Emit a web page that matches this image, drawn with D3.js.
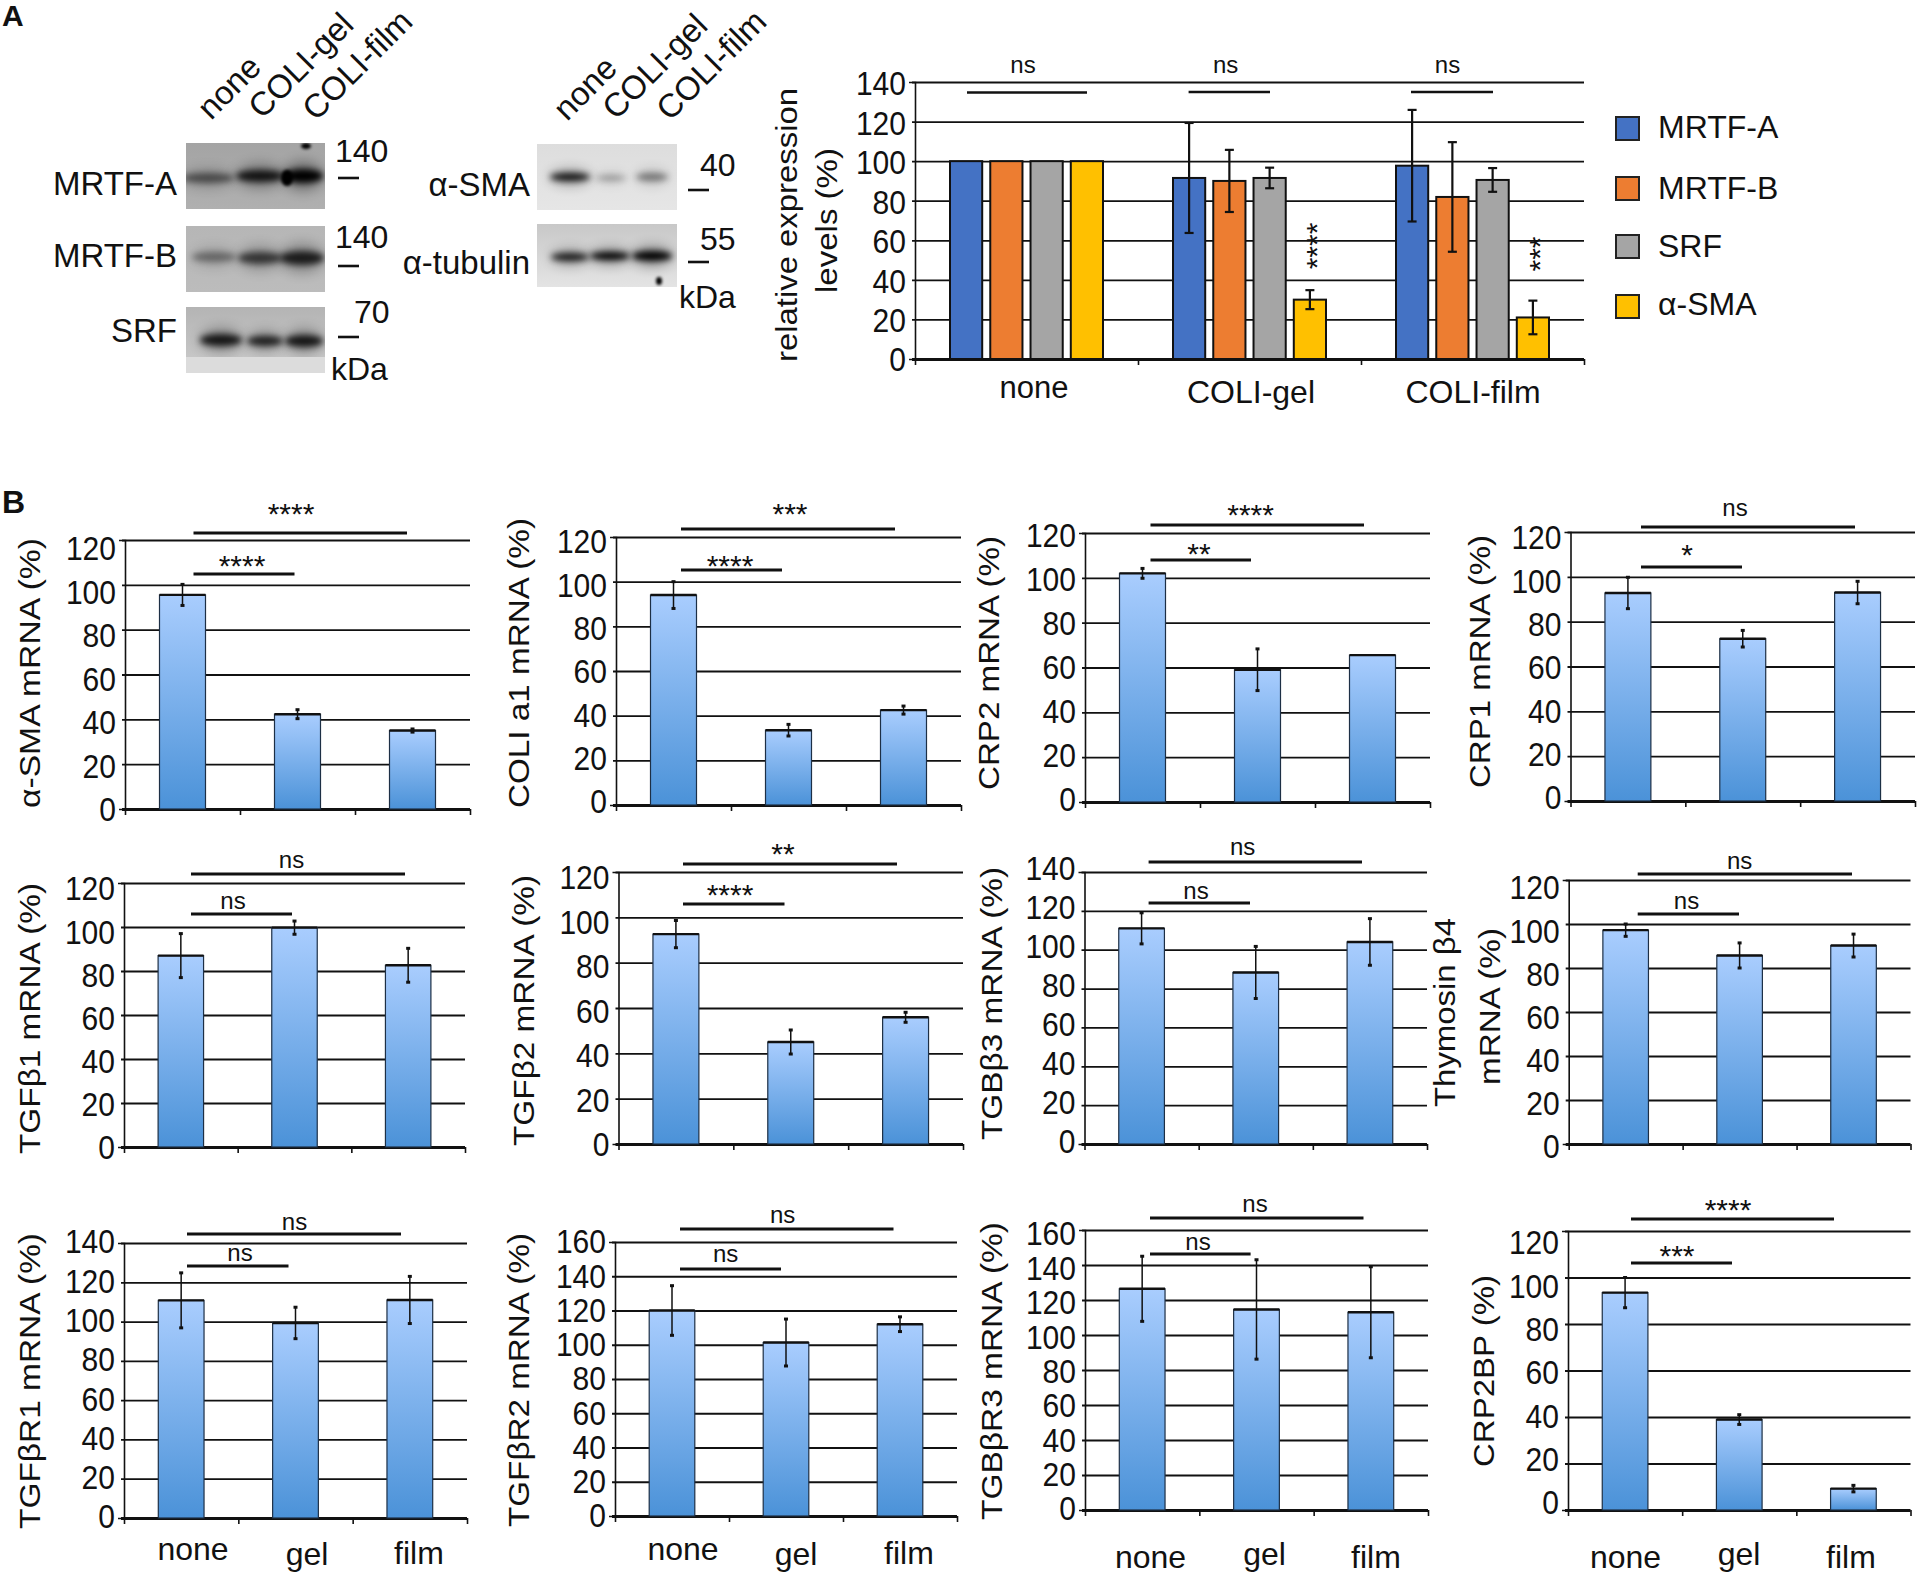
<!DOCTYPE html>
<html>
<head>
<meta charset="utf-8">
<script src="https://cdn.jsdelivr.net/npm/d3@7"></script>
<style>
  html, body { margin: 0; padding: 0; background: #fff; }
  svg { display: block; }
  text { font-family: "Liberation Sans", Arial, sans-serif; fill: #111; }
</style>
</head>
<body>
<svg id="fig" width="1917" height="1575"></svg>
<script>
// panel A values
const groupsA = ['none', 'COLI-gel', 'COLI-film'];
const proteins = ['MRTF-A', 'MRTF-B', 'SRF', 'α-SMA'];
const proteinColors = ['#4472c4', '#ed7d31', '#a5a5a5', '#ffc000'];
const valuesNone = [100, 100, 100, 100];
const errNone = [0, 0, 0, 0];
const valuesGel = [91.5, 90, 91.5, 30];
const errGel = [27.8, 15.7, 5.2, 4.8];
const valuesFilm = [97.7, 81.9, 90.5, 21];
const errFilm = [28.2, 27.7, 6, 8.5];
const yTicksA = [0, 20, 40, 60, 80, 100, 120, 140];

// panel B values, order is none / gel / film
const conditions = ['none', 'gel', 'film'];
const smaMrna = [95.5, 42.3, 35];
const smaMrnaErr = [4.7, 2, 0.7];
const coliMrna = [94, 33.5, 42.5];
const coliMrnaErr = [6, 2.6, 1.8];
const crp2Mrna = [102, 59, 65.5];
const crp2MrnaErr = [2.2, 9.3, 0];
const crp1Mrna = [92.8, 72.4, 93];
const crp1MrnaErr = [7, 3.7, 5];
const tgfb1Mrna = [87, 99.7, 82.6];
const tgfb1MrnaErr = [10, 3, 7.7];
const tgfb2Mrna = [92.6, 45, 55.9];
const tgfb2MrnaErr = [6, 5.3, 2.2];
const tgbb3Mrna = [111, 88.3, 104];
const tgbb3MrnaErr = [8, 13.4, 12];
const thymosinMrna = [97.2, 85.7, 90.2];
const thymosinMrnaErr = [2.8, 5.7, 5.2];
const tgfbr1Mrna = [110.8, 99.3, 111];
const tgfbr1MrnaErr = [14, 8, 12];
const tgfbr2Mrna = [120, 101.3, 112];
const tgfbr2MrnaErr = [14.5, 13.7, 4.3];
const tgbr3Mrna = [126.4, 114.6, 113];
const tgbr3MrnaErr = [18.6, 28.4, 26];
const crp2bp = [93.5, 38.9, 9.2];
const crp2bpErr = [6.5, 2.1, 1.4];

const svg = d3.select('#fig');
const defs = svg.append('defs');

const barGrad = defs.append('linearGradient').attr('id', 'barGrad')
  .attr('x1', 0).attr('y1', 0).attr('x2', 0).attr('y2', 1);
barGrad.append('stop').attr('offset', '0%').attr('stop-color', '#a9cdfe');
barGrad.append('stop').attr('offset', '100%').attr('stop-color', '#4b92d8');

[[1.5, 'blot1'], [3, 'blot3'], [6, 'blot6']].forEach(f => {
  defs.append('filter').attr('id', f[1]).attr('x', '-60%').attr('y', '-100%').attr('width', '220%').attr('height', '300%')
    .append('feGaussianBlur').attr('stdDeviation', f[0]);
});

function label(g, str, x, y, size, opts = {}) {
  return g.append('text').attr('x', x).attr('y', y)
    .attr('font-size', size)
    .attr('text-anchor', opts.anchor || 'start')
    .attr('font-weight', opts.weight || 'normal')
    .text(str);
}

// rotated text stretched to a known span
function vLabel(str, x, yTop, yBottom, size = 30) {
  svg.append('text')
    .attr('transform', `translate(${x + 2},${(yTop + yBottom) / 2}) rotate(-90)`)
    .attr('text-anchor', 'middle')
    .attr('dominant-baseline', 'middle')
    .attr('font-size', size)
    .attr('textLength', yBottom - yTop)
    .attr('lengthAdjust', 'spacingAndGlyphs')
    .text(str);
}

function drawAxes(g, y, box, ticks, labelShift) {
  const w = box.x1 - box.x0;
  const maxV = ticks[ticks.length - 1];
  const axis = g.append('g')
    .call(d3.axisLeft(y).tickValues(ticks).tickFormat(d3.format('d')));
  axis.select('.domain').attr('stroke', '#111').attr('stroke-width', 1.6);
  axis.selectAll('.tick line')
    .attr('x1', -3).attr('x2', w)
    .attr('stroke', '#111')
    .attr('stroke-width', d => d === 0 ? 3 : 1.8);
  // source labels are tall and narrow
  axis.selectAll('.tick text')
    .attr('x', -9)
    .attr('y', d => labelShift[0] + (labelShift[1] - labelShift[0]) * d / maxV)
    .attr('font-size', 34)
    .attr('textLength', d => String(d).length * 16.7)
    .attr('lengthAdjust', 'spacingAndGlyphs')
    .attr('font-family', '"Liberation Sans", Arial, sans-serif')
    .attr('fill', '#111');

  const cats = d3.scaleLinear().domain([0, 3]).range([0, w]);
  const bottom = g.append('g').attr('transform', `translate(0,${y(0)})`)
    .call(d3.axisBottom(cats).tickValues([0, 1, 2, 3]).tickSize(6).tickFormat(''));
  bottom.select('.domain').remove();
  bottom.selectAll('.tick line').attr('stroke', '#111').attr('stroke-width', 1.6);
}

function errorBar(g, x, yHi, yLo, capW, lineW, capH) {
  g.append('line').attr('x1', x).attr('x2', x).attr('y1', yHi).attr('y2', yLo)
    .attr('stroke', '#111').attr('stroke-width', lineW);
  [yHi, yLo].forEach(v => {
    g.append('line').attr('x1', x - capW / 2).attr('x2', x + capW / 2).attr('y1', v).attr('y2', v)
      .attr('stroke', '#111').attr('stroke-width', capH);
  });
}

// ---- panel A chart ----
const boxA = { x0: 915, x1: 1584, top: 82, base: 359 };
const gA = svg.append('g').attr('transform', `translate(${boxA.x0},0)`);
const yA = d3.scaleLinear().domain([0, 140]).range([boxA.base, boxA.top]);
drawAxes(gA, yA, boxA, yTicksA, [1, 2]);

const outerA = d3.scaleBand().domain(groupsA).range([0, boxA.x1 - boxA.x0]);
const innerA = d3.scaleBand().domain(proteins)
  .range([35, 188]).paddingInner(0.2).paddingOuter(0);
[[valuesNone, errNone], [valuesGel, errGel], [valuesFilm, errFilm]].forEach((pair, gi) => {
  const group = gA.append('g').attr('transform', `translate(${outerA(groupsA[gi])},0)`);
  group.selectAll('rect').data(pair[0]).join('rect')
    .attr('x', (d, i) => innerA(proteins[i]))
    .attr('width', innerA.bandwidth())
    .attr('y', d => yA(d))
    .attr('height', d => yA(0) - yA(d))
    .attr('fill', (d, i) => proteinColors[i])
    .attr('stroke', '#111').attr('stroke-width', 2);
  pair[0].forEach((v, i) => {
    if (!pair[1][i]) return;
    errorBar(group, innerA(proteins[i]) + innerA.bandwidth() / 2,
      yA(v + pair[1][i]), yA(v - pair[1][i]), 9, 2.2, 2.2);
  });
});

label(svg, 'none', 1034, 398, 31, { anchor: 'middle' });
label(svg, 'COLI-gel', 1251, 403, 32, { anchor: 'middle' });
label(svg, 'COLI-film', 1473, 403, 32, { anchor: 'middle' });

vLabel('relative expression', 787, 88, 362);
vLabel('levels (%)', 827, 148, 293);

const sigA = [[967, 1087, 92.5, 'ns', 1023], [1188.6, 1270, 92, 'ns', 1225.6], [1411, 1493, 92, 'ns', 1447.5]];
sigA.forEach(s => {
  svg.append('line').attr('x1', s[0]).attr('x2', s[1]).attr('y1', s[2]).attr('y2', s[2])
    .attr('stroke', '#111').attr('stroke-width', 2.6);
  label(svg, s[3], s[4], 73, 24, { anchor: 'middle' });
});
svg.append('text').attr('transform', 'translate(1327,246) rotate(-90)')
  .attr('text-anchor', 'middle').attr('font-size', 30).text('****');
svg.append('text').attr('transform', 'translate(1550,254) rotate(-90)')
  .attr('text-anchor', 'middle').attr('font-size', 30).text('***');

// legend
const legendTop = [117, 177, 235, 295];
const legendBase = [138, 199, 257, 315];
proteins.forEach((p, i) => {
  svg.append('rect').attr('x', 1616).attr('y', legendTop[i]).attr('width', 23).attr('height', 23)
    .attr('fill', proteinColors[i]).attr('stroke', '#222').attr('stroke-width', 2);
  label(svg, p, 1658, legendBase[i], 32);
});

// ---- panel B ----
const panels = [
  { title: 'α-SMA mRNA (%)', values: smaMrna, errs: smaMrnaErr, max: 120, x0: 125, x1: 470, top: 540, base: 809, shift: [1, 9],
    ylab: [30, 538, 808], sigTop: [193.5, 407, 533, '****', 291, 521], sigLow: [193.5, 294.5, 574, '****', 242, 573] },
  { title: 'COLI a1 mRNA (%)', values: coliMrna, errs: coliMrnaErr, max: 120, x0: 616, x1: 961, top: 537, base: 805, shift: [-3, 5],
    ylab: [519, 518, 808], sigTop: [681, 895, 529, '***', 790, 521], sigLow: [681, 782, 570, '****', 730, 573] },
  { title: 'CRP2 mRNA (%)', values: crp2Mrna, errs: crp2MrnaErr, max: 120, x0: 1085, x1: 1430, top: 533, base: 802, shift: [-2, 3],
    ylab: [989, 536, 790], sigTop: [1150.5, 1364, 525, '****', 1250.6, 522], sigLow: [1150.5, 1251, 560, '**', 1199, 561] },
  { title: 'CRP1 mRNA (%)', values: crp1Mrna, errs: crp1MrnaErr, max: 120, x0: 1570.5, x1: 1915, top: 532, base: 801, shift: [-3, 6],
    ylab: [1480, 535, 788], sigTop: [1641, 1855, 527, 'ns', 1735, 516], sigLow: [1641, 1742, 567, '*', 1687, 562] },

  { title: 'TGFβ1 mRNA (%)', values: tgfb1Mrna, errs: tgfb1MrnaErr, max: 120, x0: 124, x1: 465, top: 883, base: 1147, shift: [1, 6],
    ylab: [30, 883, 1154], sigTop: [191, 405, 874, 'ns', 291.5, 868], sigLow: [191, 292, 914, 'ns', 233, 909] },
  { title: 'TGFβ2 mRNA (%)', values: tgfb2Mrna, errs: tgfb2MrnaErr, max: 120, x0: 618.5, x1: 963, top: 872, base: 1144, shift: [1, 6],
    ylab: [523.6, 875, 1146], sigTop: [683, 897, 864, '**', 783, 861], sigLow: [683, 784.5, 904, '****', 730, 902] },
  { title: 'TGBβ3 mRNA (%)', values: tgbb3Mrna, errs: tgbb3MrnaErr, max: 140, x0: 1084.5, x1: 1427, top: 872, base: 1144, shift: [-2, -3],
    ylab: [992, 867, 1140], sigTop: [1148.6, 1362, 862, 'ns', 1242.7, 855], sigLow: [1148.6, 1250, 903, 'ns', 1196, 899] },
  { title: null, values: thymosinMrna, errs: thymosinMrnaErr, max: 120, x0: 1568.7, x1: 1910.5, top: 880, base: 1144, shift: [3, 8],
    ylab: null, sigTop: [1637.7, 1852, 874, 'ns', 1739.6, 869], sigLow: [1637.7, 1739, 914, 'ns', 1686.5, 909] },

  { title: 'TGFβR1 mRNA (%)', values: tgfbr1Mrna, errs: tgfbr1MrnaErr, max: 140, x0: 124, x1: 467, top: 1243, base: 1518, shift: [-1, -1],
    ylab: [30, 1233, 1529], sigTop: [187, 401, 1234, 'ns', 294.5, 1230], sigLow: [187, 288.5, 1266, 'ns', 240, 1261],
    xlabels: [[193, 1560], [307, 1565], [419, 1564]] },
  { title: 'TGFβR2 mRNA (%)', values: tgfbr2Mrna, errs: tgfbr2MrnaErr, max: 160, x0: 615, x1: 957, top: 1242, base: 1516, shift: [0, 0],
    ylab: [519, 1233, 1527], sigTop: [680, 893.5, 1229, 'ns', 782.6, 1223], sigLow: [680, 781, 1269, 'ns', 725.7, 1262],
    xlabels: [[683, 1560], [796, 1565], [909, 1564]] },
  { title: 'TGBβR3 mRNA (%)', values: tgbr3Mrna, errs: tgbr3MrnaErr, max: 160, x0: 1085, x1: 1428, top: 1230, base: 1510, shift: [-1, 4],
    ylab: [992, 1222, 1520], sigTop: [1150, 1363.5, 1218, 'ns', 1255, 1212], sigLow: [1150, 1250.6, 1254, 'ns', 1198, 1250],
    xlabels: [[1150.5, 1568], [1264.6, 1565], [1376, 1568]] },
  { title: 'CRP2BP (%)', values: crp2bp, errs: crp2bpErr, max: 120, x0: 1568, x1: 1910.5, top: 1231, base: 1510, shift: [-7, 12],
    ylab: [1484, 1275, 1467], sigTop: [1631, 1834, 1219, '****', 1728, 1217], sigLow: [1631, 1732, 1263, '***', 1677, 1263],
    xlabels: [[1625.5, 1568], [1739, 1565], [1851, 1568]] }
];

panels.forEach(p => {
  const g = svg.append('g').attr('transform', `translate(${p.x0},0)`);
  const y = d3.scaleLinear().domain([0, p.max]).range([p.base, p.top]);
  drawAxes(g, y, { x0: p.x0, x1: p.x1 }, d3.range(0, p.max + 1, 20), p.shift);

  const x = d3.scaleBand().domain(conditions).range([0, p.x1 - p.x0]).paddingInner(0.6).paddingOuter(0.3);
  const bars = g.selectAll('.bar').data(p.values).join('g').attr('class', 'bar');
  bars.append('rect')
    .attr('x', (d, i) => x(conditions[i]))
    .attr('width', x.bandwidth())
    .attr('y', d => y(d))
    .attr('height', d => y(0) - y(d))
    .attr('fill', 'url(#barGrad)')
    .attr('stroke', '#1d2f45').attr('stroke-width', 1.2);
  bars.append('line')
    .attr('x1', (d, i) => x(conditions[i]))
    .attr('x2', (d, i) => x(conditions[i]) + x.bandwidth())
    .attr('y1', d => y(d)).attr('y2', d => y(d))
    .attr('stroke', '#111').attr('stroke-width', 2.4);

  p.values.forEach((v, i) => {
    if (!p.errs[i]) return;
    errorBar(g, x(conditions[i]) + x.bandwidth() / 2, y(v + p.errs[i]), y(v - p.errs[i]), 4, 1.5, 3);
  });

  [p.sigTop, p.sigLow].forEach(s => {
    svg.append('line').attr('x1', s[0]).attr('x2', s[1]).attr('y1', s[2]).attr('y2', s[2])
      .attr('stroke', '#111').attr('stroke-width', 3);
    if (s[3] === 'ns') label(svg, s[3], s[4], s[5], 24, { anchor: 'middle' });
    else label(svg, s[3], s[4], s[5] + 3, 30, { anchor: 'middle' });
  });

  if (p.ylab) vLabel(p.title, p.ylab[0], p.ylab[1], p.ylab[2]);
  if (p.xlabels) {
    p.xlabels.forEach((pos, i) => label(svg, conditions[i], pos[0], pos[1], 32, { anchor: 'middle' }));
  }
});
vLabel('Thymosin β4', 1445, 918, 1107);
vLabel('mRNA (%)', 1490, 928, 1085);

label(svg, 'A', 2, 26, 30, { weight: 'bold' });
label(svg, 'B', 2, 513, 32, { weight: 'bold' });

// ---- western blots ----
const blots = [
  { id: 'a', x: 186, y: 143, w: 139, h: 66, top: '#a4a4a4', bottom: '#b0b0b0',
    bands: [[208, 178, 26, 5, 0.5], [260, 176, 24, 6, 0.85], [303, 176, 20, 7, 1]],
    spots: [[287, 178, 6, 8], [306, 146, 5, 3]] },
  { id: 'b', x: 186, y: 226, w: 139, h: 66, top: '#b6b6b6', bottom: '#bcbcbc',
    bands: [[214, 257, 22, 5, 0.38], [260, 258, 22, 6, 0.65], [302, 258, 22, 7, 0.8]], spots: [] },
  { id: 'c', x: 186, y: 307, w: 139, h: 66, top: '#b4b4b4', bottom: '#cccccc', foot: 357,
    bands: [[221, 340, 21, 6, 0.85], [265, 341, 18, 5, 0.8], [304, 341, 19, 6, 0.85]], spots: [] },
  { id: 'd', x: 537, y: 144, w: 140, h: 66, top: '#dddddd', bottom: '#e6e6e6',
    bands: [[570, 177, 20, 4, 0.9], [611, 178, 15, 3, 0.28], [652, 177, 16, 4, 0.42]], spots: [] },
  { id: 'e', x: 537, y: 224, w: 140, h: 63, top: '#c8c8c8', bottom: '#e4e4e4',
    bands: [[570, 257, 19, 4, 0.85], [610, 256, 20, 4, 1], [652, 256, 20, 5, 1]],
    spots: [[659, 281, 3, 4]] }
];
blots.forEach(b => {
  const grad = defs.append('linearGradient').attr('id', `blotBg-${b.id}`)
    .attr('x1', 0).attr('y1', 0).attr('x2', 0).attr('y2', 1);
  grad.append('stop').attr('offset', '0%').attr('stop-color', b.top);
  grad.append('stop').attr('offset', '100%').attr('stop-color', b.bottom);
  defs.append('clipPath').attr('id', `blotClip-${b.id}`)
    .append('rect').attr('x', b.x).attr('y', b.y).attr('width', b.w).attr('height', b.h);

  const g = svg.append('g').attr('clip-path', `url(#blotClip-${b.id})`);
  g.append('rect').attr('x', b.x).attr('y', b.y).attr('width', b.w).attr('height', b.h)
    .attr('fill', `url(#blotBg-${b.id})`);
  // soft halo under each band, then the band itself
  g.selectAll('.halo').data(b.bands).join('ellipse').attr('class', 'halo')
    .attr('cx', d => d[0]).attr('cy', d => d[1])
    .attr('rx', d => d[2] * 1.05).attr('ry', d => d[3] * 2.2)
    .attr('fill', '#000').attr('opacity', d => d[4] * 0.3).attr('filter', 'url(#blot6)');
  g.selectAll('.band').data(b.bands).join('ellipse').attr('class', 'band')
    .attr('cx', d => d[0]).attr('cy', d => d[1])
    .attr('rx', d => d[2]).attr('ry', d => d[3])
    .attr('fill', '#000').attr('opacity', d => d[4]).attr('filter', 'url(#blot3)');
  g.selectAll('.spot').data(b.spots).join('ellipse').attr('class', 'spot')
    .attr('cx', d => d[0]).attr('cy', d => d[1])
    .attr('rx', d => d[2]).attr('ry', d => d[3])
    .attr('fill', '#000').attr('filter', 'url(#blot1)');
  // the SRF strip ends in a flat pale area below the lanes
  if (b.foot) {
    g.append('rect').attr('x', b.x).attr('y', b.foot).attr('width', b.w).attr('height', b.y + b.h - b.foot)
      .attr('fill', '#dcdcdc');
  }
});

// blot labels
[['MRTF-A', 177, 195], ['MRTF-B', 177, 267], ['SRF', 177, 342], ['α-SMA', 530, 196], ['α-tubulin', 530, 274]]
  .forEach(t => label(svg, t[0], t[1], t[2], 33, { anchor: 'end' }));
[['140', 335, 162], ['140', 335, 248], ['70', 354, 323], ['kDa', 331, 380], ['40', 700, 176], ['55', 700, 250], ['kDa', 679, 308]]
  .forEach(t => label(svg, t[0], t[1], t[2], 32));
[[338, 359, 178], [338, 359, 266], [338, 359, 337], [688, 709, 190], [688, 709, 262]].forEach(t => {
  svg.append('line').attr('x1', t[0]).attr('x2', t[1]).attr('y1', t[2]).attr('y2', t[2])
    .attr('stroke', '#111').attr('stroke-width', 2.6);
});
[['none', 211, 121], ['COLI-gel', 262, 120], ['COLI-film', 316, 122], ['none', 567, 122], ['COLI-gel', 616, 121], ['COLI-film', 670, 122]]
  .forEach(t => {
    svg.append('text').attr('transform', `translate(${t[1]},${t[2]}) rotate(-45)`)
      .attr('font-size', 33).text(t[0]);
  });
</script>
</body>
</html>
